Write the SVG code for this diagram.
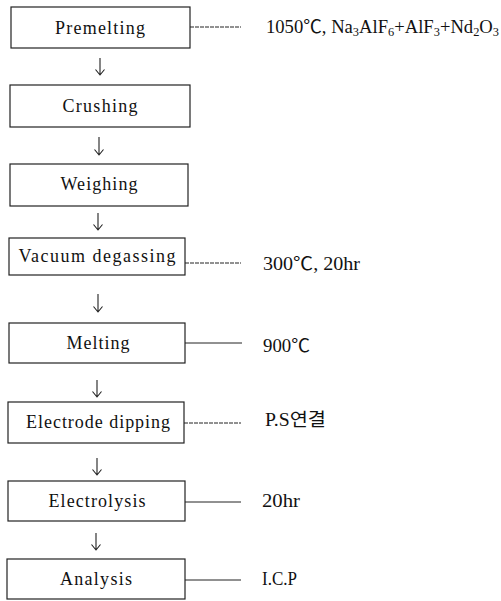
<svg xmlns="http://www.w3.org/2000/svg" width="501" height="601" viewBox="0 0 501 601">
<style>
.box{fill:#fff;stroke:#222;stroke-width:1.2}
.lbl{font-family:"Liberation Serif","Noto Sans CJK KR",serif;font-size:18px;fill:#111;text-anchor:middle}
.note{font-family:"Liberation Serif","Noto Sans CJK KR",serif;font-size:18px;fill:#111}
.sub{font-size:12px}
.conn{stroke:#222;stroke-width:1;fill:none}
.dash{stroke-dasharray:4 1}
.arr{stroke:#222;stroke-width:1.1;fill:none}
</style>
<rect width="501" height="601" fill="#fff"/>
<g id="n-premelting"><rect class="box" x="11" y="7" width="179" height="41"/><text class="lbl" x="100" y="34" textLength="90" lengthAdjust="spacing">Premelting</text></g>
<g id="n-crushing"><rect class="box" x="10" y="85" width="180" height="42"/><text class="lbl" x="100" y="112" textLength="75" lengthAdjust="spacing">Crushing</text></g>
<g id="n-weighing"><rect class="box" x="10" y="164" width="178" height="42"/><text class="lbl" x="99" y="190" textLength="77" lengthAdjust="spacing">Weighing</text></g>
<g id="n-vacuum"><rect class="box" x="9" y="238" width="176" height="37"/><text class="lbl" x="97" y="262" textLength="157" lengthAdjust="spacing">Vacuum degassing</text></g>
<g id="n-melting"><rect class="box" x="9" y="323" width="176" height="40"/><text class="lbl" x="98" y="349" textLength="63" lengthAdjust="spacing">Melting</text></g>
<g id="n-electrode"><rect class="box" x="8" y="402" width="176" height="41"/><text class="lbl" x="98" y="428" textLength="144" lengthAdjust="spacing">Electrode dipping</text></g>
<g id="n-electrolysis"><rect class="box" x="8" y="481" width="177" height="40"/><text class="lbl" x="97" y="507" textLength="97" lengthAdjust="spacing">Electrolysis</text></g>
<g id="n-analysis"><rect class="box" x="7" y="559" width="178" height="40"/><text class="lbl" x="96" y="585" textLength="72" lengthAdjust="spacing">Analysis</text></g>
<g id="notes">
<text class="note" x="266" y="33" textLength="233" lengthAdjust="spacingAndGlyphs">1050℃, Na<tspan class="sub" dy="3">3</tspan><tspan dy="-3">AlF</tspan><tspan class="sub" dy="3">6</tspan><tspan dy="-3">+AlF</tspan><tspan class="sub" dy="3">3</tspan><tspan dy="-3">+Nd</tspan><tspan class="sub" dy="3">2</tspan><tspan dy="-3">O</tspan><tspan class="sub" dy="3">3</tspan></text>
<text class="note" x="263" y="270" textLength="97" lengthAdjust="spacingAndGlyphs">300℃, 20hr</text>
<text class="note" x="263" y="352" textLength="47" lengthAdjust="spacingAndGlyphs">900℃</text>
<text class="note" x="265" y="426" textLength="61" lengthAdjust="spacingAndGlyphs">P.S연결</text>
<text class="note" x="262" y="507" textLength="38" lengthAdjust="spacingAndGlyphs">20hr</text>
<text class="note" x="262" y="585" textLength="35" lengthAdjust="spacingAndGlyphs">I.C.P</text>
</g>
<g id="connectors">
<line class="conn dash" x1="190" y1="27" x2="241" y2="27"/>
<line class="conn dash" x1="185" y1="263" x2="241" y2="263"/>
<line class="conn" x1="185" y1="343" x2="242" y2="343"/>
<line class="conn dash" x1="184" y1="423" x2="241" y2="423"/>
<line class="conn" x1="185" y1="502" x2="241" y2="502"/>
<line class="conn" x1="185" y1="580" x2="241" y2="580"/>
<path class="arr" d="M100,58V75M95.5,69.5L100,75L104.5,69.5"/>
<path class="arr" d="M99,137V155M94.5,149.5L99,155L103.5,149.5"/>
<path class="arr" d="M98,213V230M93.5,224.5L98,230L102.5,224.5"/>
<path class="arr" d="M98,294V312M93.5,306.5L98,312L102.5,306.5"/>
<path class="arr" d="M97,380V397M92.5,391.5L97,397L101.5,391.5"/>
<path class="arr" d="M97,458V475M92.5,469.5L97,475L101.5,469.5"/>
<path class="arr" d="M96,533V550M91.5,544.5L96,550L100.5,544.5"/>
</g>
</svg>
